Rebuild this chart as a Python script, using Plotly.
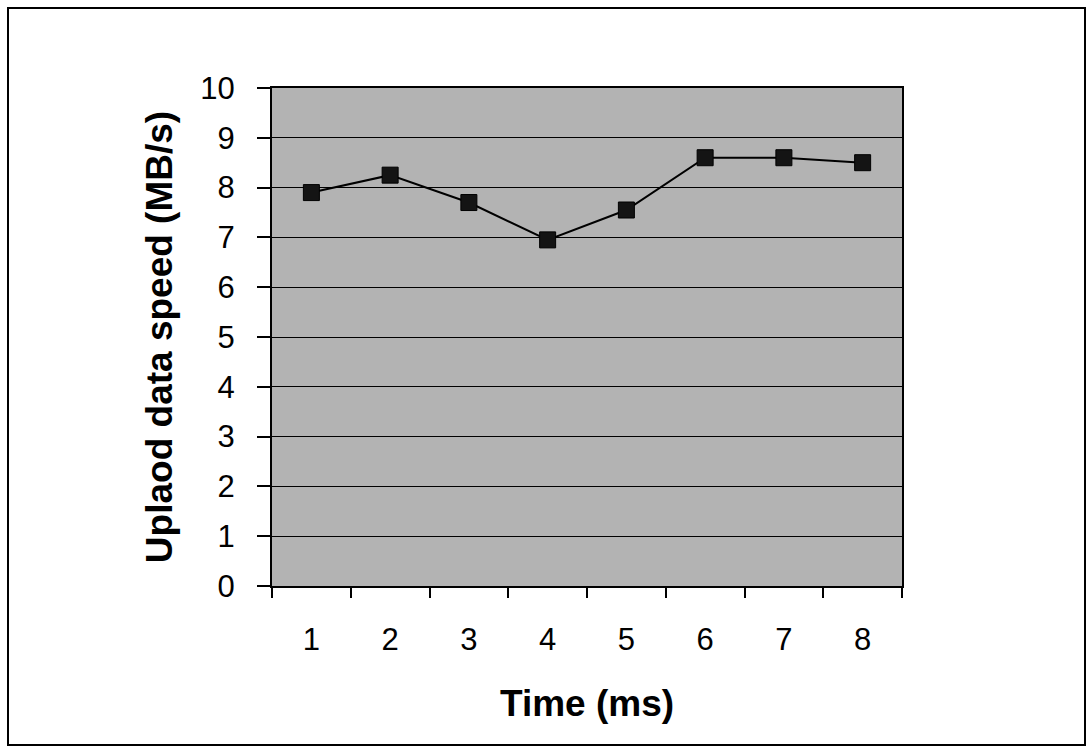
import plotly.graph_objects as go

categories = ["1", "2", "3", "4", "5", "6", "7", "8"]
speed = [7.9, 8.25, 7.7, 6.95, 7.55, 8.6, 8.6, 8.5]
y_ticks = list(range(0, 11))

W, H = 1090, 749
L, R, T, B = 272, 188, 88, 163
pw, ph = W - L - R, H - T - B

fig = go.Figure()
fig.add_trace(go.Scatter(
    x=categories, y=speed, mode="lines+markers",
    line=dict(color="black", width=2),
    marker=dict(symbol="square", size=16, color="#141414", line=dict(color="black", width=1)),
    showlegend=False,
))

font_family = "Liberation Sans, Arial, sans-serif"
fig.update_layout(
    width=W, height=H,
    margin=dict(l=L, r=R, t=T, b=B, pad=0),
    paper_bgcolor="white",
    plot_bgcolor="#b3b3b3",
    font=dict(family=font_family, color="black"),
    xaxis=dict(
        type="category", range=[-0.5, 7.5],
        tickson="boundaries", ticks="outside", ticklen=10, tickwidth=1.5, tickcolor="black",
        showline=True, linecolor="black", linewidth=2, mirror=True,
        showgrid=False, tickfont=dict(size=31), ticklabelstandoff=25,
        title=dict(text="<b>Time (ms)</b>", font=dict(size=37), standoff=34),
    ),
    yaxis=dict(
        range=[0, 10], tickvals=y_ticks, ticks="outside", ticklen=13, tickwidth=1.5, tickcolor="black",
        showline=True, linecolor="black", linewidth=2, mirror=True,
        showgrid=True, gridcolor="black", gridwidth=1, zeroline=False,
        tickfont=dict(size=31), ticklabelstandoff=16,
        title=dict(text="<b>Uplaod data speed (MB/s)</b>", font=dict(size=37), standoff=16),
    ),
    shapes=[dict(
        type="rect", xref="paper", yref="paper",
        x0=(8 - L) / pw, x1=(1085 - L) / pw,
        y0=(H - B - 745) / ph, y1=(H - B - 8) / ph,
        line=dict(color="black", width=2), fillcolor="rgba(0,0,0,0)", layer="below",
    )],
)

fig.write_html("out.html", config={"displayModeBar": False},
               post_script="document.body.style.margin='0';")
